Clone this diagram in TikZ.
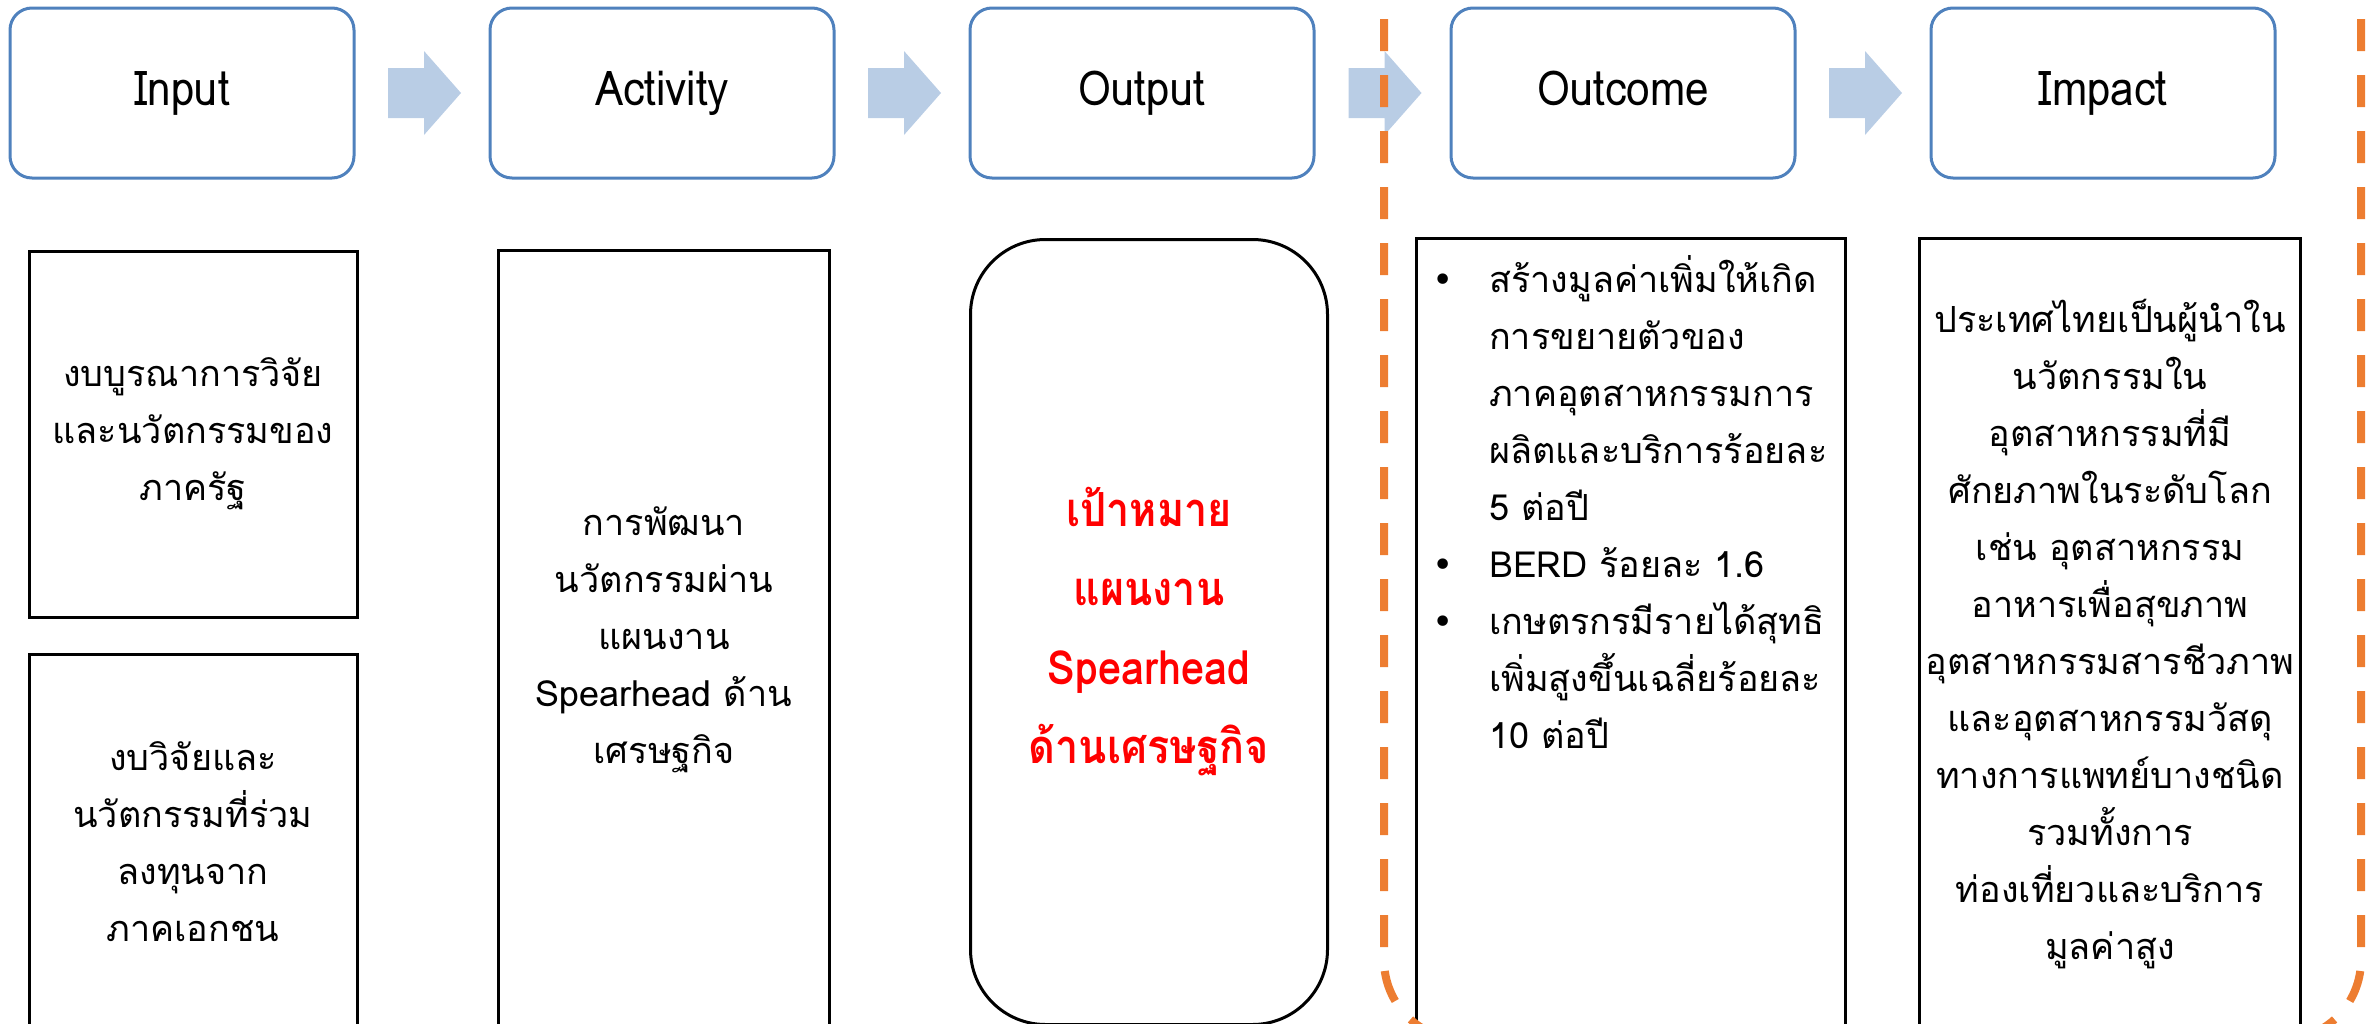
\documentclass[tikz,border=0pt]{standalone}
\usepackage{fontspec}
\setmainfont{Loma}[Script=Thai]
\newfontfamily\headfont{Loma}[Script=Thai,FakeStretch=0.88]
\newfontfamily\symfont{DejaVu Sans}
\usetikzlibrary{calc}

\definecolor{headblue}{RGB}{79,129,189}
\definecolor{arrowblue}{RGB}{185,205,229}
\definecolor{dashorange}{RGB}{237,125,49}
\definecolor{goalred}{RGB}{255,0,0}

\tikzset{
  headbox/.style={draw=headblue, line width=3pt, rounded corners=22pt,
    minimum width=344pt, minimum height=170pt, text height=34pt, text depth=10pt,
    font=\headfont\fontsize{48}{50}\selectfont},
  bodybox/.style={draw=black, line width=3pt, align=center,
    font=\fontsize{36}{57}\selectfont},
  zoneline/.style={dashorange, line width=8pt, dash pattern=on 32pt off 24pt},
}

\begin{document}
\begin{tikzpicture}[x=1pt,y=-1pt]
  \clip (0,0) rectangle (2369,1023);
  \useasboundingbox (0,0) rectangle (2369,1023);

  % top row
  \node[headbox] (hin) at (182,93) {Input};
  \node[headbox] (hact) at (662,93) {Activity};
  \node[headbox] (hout) at (1142,93) {Output};
  \node[headbox] (houtc) at (1623,93) {Outcome};
  \node[headbox] (himp) at (2103,93) {Impact};
  \foreach \a/\b [count=\i] in {hin/hact,hact/hout,hout/houtc,houtc/himp} {
    \coordinate (arr\i) at ($(\a.east)!0.5!(\b.west)+(2,0)$);
    \fill[arrowblue] ($(arr\i)+(-36,-25)$) -- ++(36,0) -- ++(0,-17) -- ++(37,42)
      -- ++(-37,42) -- ++(0,-17) -- ++(-36,0) -- cycle;
  }

  % bottom row
  \node[bodybox, minimum width=328pt, minimum height=366pt] (ina) at (193,434)
    {งบบูรณาการวิจัย\\และนวัตกรรมของ\\ภาครัฐ};
  \node[bodybox, minimum width=328pt, minimum height=376pt] (inb) at (193,842)
    {งบวิจัยและ\\นวัตกรรมที่ร่วม\\ลงทุนจาก\\ภาคเอกชน};
  \node[bodybox, minimum width=331pt, minimum height=779pt] (act) at (664,640)
    {การพัฒนา\\นวัตกรรมผ่าน\\แผนงาน\\Spearhead ด้าน\\เศรษฐกิจ};
  \node[bodybox, rounded corners=75pt, minimum width=357pt, minimum height=785pt,
    text=goalred, font=\headfont\fontsize{47}{79}\selectfont\bfseries] (out) at (1149,632)
    {เป้าหมาย\\แผนงาน\\Spearhead\\ด้านเศรษฐกิจ};
  \node[bodybox, minimum width=429pt, minimum height=791pt] (outc) at (1631,634) {};
  \node[anchor=north west, inner sep=0pt, font=\fontsize{36}{57}\selectfont] (outctext)
    at (1432,252) {\begin{tabular}{@{}p{57pt}@{}l@{}}
      {\symfont •} & สร้างมูลค่าเพิ่มให้เกิด\\
        & การขยายตัวของ\\
        & ภาคอุตสาหกรรมการ\\
        & ผลิตและบริการร้อยละ\\
        & 5 ต่อปี\\
      {\symfont •} & BERD ร้อยละ 1.6\\
      {\symfont •} & เกษตรกรมีรายได้สุทธิ\\
        & เพิ่มสูงขึ้นเฉลี่ยร้อยละ\\
        & 10 ต่อปี
    \end{tabular}};
  \node[bodybox, minimum width=381pt, minimum height=791pt] (imp) at (2110,634)
    {ประเทศไทยเป็นผู้นำใน\\นวัตกรรมใน\\อุตสาหกรรมที่มี\\ศักยภาพในระดับโลก\\เช่น อุตสาหกรรม\\อาหารเพื่อสุขภาพ\\อุตสาหกรรมสารชีวภาพ\\และอุตสาหกรรมวัสดุ\\ทางการแพทย์บางชนิด\\รวมทั้งการ\\ท่องเที่ยวและบริการ\\มูลค่าสูง};

  % result zone
  \draw[zoneline] (1384,-37) -- (1384,960) arc[start angle=180, end angle=90, radius=80]
    -- (1872,1040);
  \draw[zoneline] (2361,-37) -- (2361,960) arc[start angle=0, end angle=90, radius=80]
    -- (1872,1040);
\end{tikzpicture}
\end{document}
